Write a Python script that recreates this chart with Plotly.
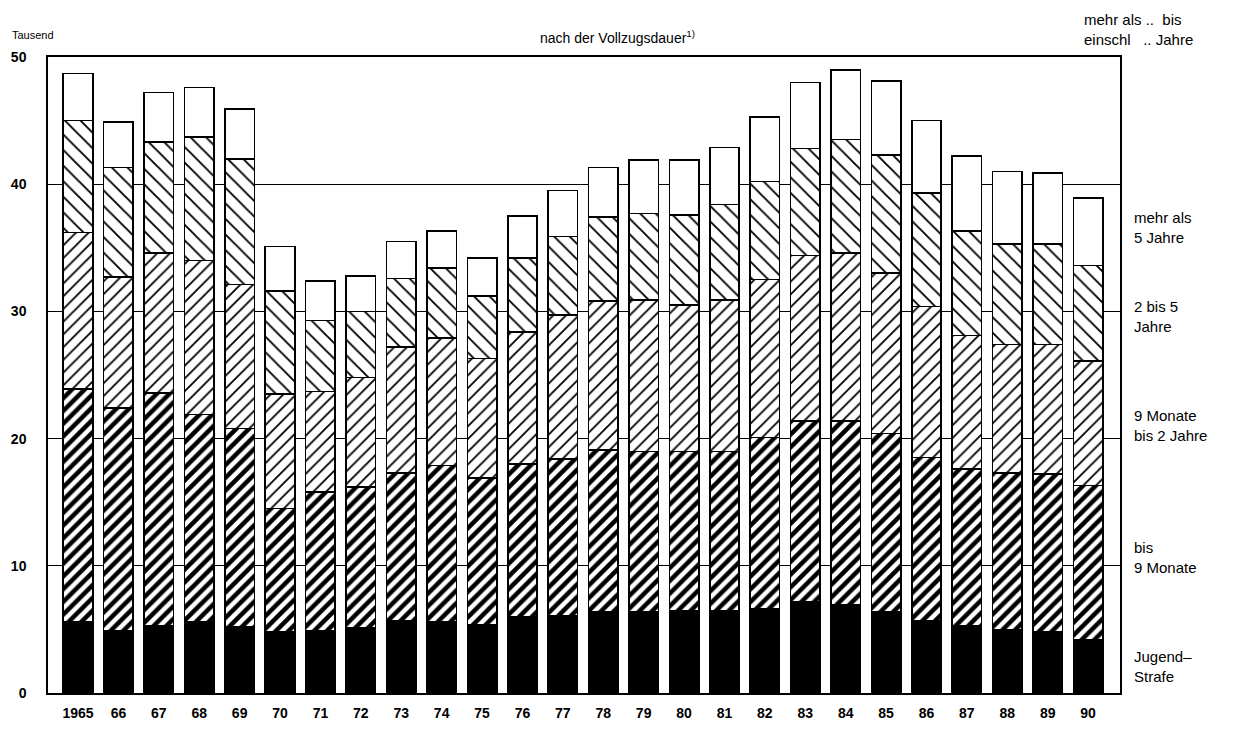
import plotly.graph_objects as go

years = ["1965", "66", "67", "68", "69", "70", "71", "72", "73", "74", "75", "76", "77",
         "78", "79", "80", "81", "82", "83", "84", "85", "86", "87", "88", "89", "90"]

# Thousands of prisoners by length of detention (segments, bottom to top)
jugendstrafe = [5.6, 4.9, 5.3, 5.6, 5.2, 4.8, 4.9, 5.1, 5.7, 5.6, 5.4, 6.0, 6.1,
                6.4, 6.4, 6.5, 6.5, 6.6, 7.2, 6.9, 6.4, 5.7, 5.3, 5.0, 4.8, 4.2]
bis_9_monate = [18.3, 17.5, 18.3, 16.3, 15.6, 9.7, 10.9, 11.1, 11.6, 12.3, 11.5, 12.0, 12.3,
                12.7, 12.6, 12.5, 12.5, 13.5, 14.2, 14.5, 14.0, 12.8, 12.3, 12.3, 12.4, 12.1]
monate9_bis_2j = [12.3, 10.3, 11.0, 12.1, 11.3, 9.0, 7.9, 8.6, 9.9, 10.0, 9.4, 10.4, 11.3,
                  11.7, 11.9, 11.5, 11.9, 12.4, 13.0, 13.2, 12.6, 11.9, 10.5, 10.1, 10.2, 9.8]
jahre2_bis_5 = [8.8, 8.6, 8.7, 9.7, 9.9, 8.1, 5.6, 5.2, 5.4, 5.5, 4.9, 5.8, 6.2,
                6.6, 6.8, 7.1, 7.5, 7.7, 8.4, 8.9, 9.3, 8.9, 8.2, 7.9, 7.9, 7.5]
mehr_als_5 = [3.7, 3.6, 3.9, 3.9, 3.9, 3.5, 3.1, 2.8, 2.9, 2.9, 3.0, 3.3, 3.6,
              3.9, 4.2, 4.3, 4.5, 5.1, 5.2, 5.5, 5.8, 5.7, 5.9, 5.7, 5.6, 5.3]

y_ticks = [0, 10, 20, 30, 40, 50]

FONT = "Liberation Sans, Arial, Helvetica, sans-serif"
BAR_W = 0.73
line = dict(color="black", width=1.6)


def hatch(shape, size, solidity):
    return dict(shape=shape, fgcolor="black", bgcolor="white", fgopacity=1,
                size=size, solidity=solidity, fillmode="replace")


fig = go.Figure()
fig.add_trace(go.Bar(x=years, y=jugendstrafe, name="Jugendstrafe", width=BAR_W,
                     marker=dict(color="black", line=line)))
fig.add_trace(go.Bar(x=years, y=bis_9_monate, name="bis 9 Monate", width=BAR_W,
                     marker=dict(color="white", line=line, pattern=hatch("/", 9, 0.5))))
fig.add_trace(go.Bar(x=years, y=monate9_bis_2j, name="9 Monate bis 2 Jahre", width=BAR_W,
                     marker=dict(color="white", line=line, pattern=hatch("/", 9, 0.2))))
fig.add_trace(go.Bar(x=years, y=jahre2_bis_5, name="2 bis 5 Jahre", width=BAR_W,
                     marker=dict(color="white", line=line, pattern=hatch("\\", 11, 0.17))))
fig.add_trace(go.Bar(x=years, y=mehr_als_5, name="mehr als 5 Jahre", width=BAR_W,
                     marker=dict(color="white", line=line)))

# The page adds an 8px body margin; the figure is sized/placed to compensate.
OFF = 8
W, H = 1238 - 2 * OFF, 735 - 2 * OFF
L, T = 48 - OFF, 57 - OFF
R = W - (1120 - OFF)
B = H - (693 - OFF)
plot_h = H - T - B
plot_w = W - L - R


def px_y(py):
    return (H - B - (py - OFF)) / plot_h


def px_x(px):
    return (px - OFF - L) / plot_w


annotations = []
right_labels = [("mehr als<br>5 Jahre", 227), ("2 bis 5<br>Jahre", 316),
                ("9 Monate<br>bis 2 Jahre", 425), ("bis<br>9 Monate", 557),
                ("Jugend–<br>Strafe", 666)]
for txt, py in right_labels:
    annotations.append(dict(text=txt, x=px_x(1132), y=px_y(py), xref="paper", yref="paper",
                            xanchor="left", yanchor="middle", showarrow=False, align="left",
                            font=dict(family=FONT, size=15, color="black")))
annotations.append(dict(text="mehr als ..  bis<br>einschl   .. Jahre", x=px_x(1082), y=px_y(29),
                        xref="paper", yref="paper", xanchor="left", yanchor="middle",
                        showarrow=False, align="left",
                        font=dict(family=FONT, size=15, color="black")))
annotations.append(dict(text="Tausend", x=px_x(10), y=px_y(35), xref="paper", yref="paper",
                        xanchor="left", yanchor="middle", showarrow=False,
                        font=dict(family=FONT, size=11, color="black")))
annotations.append(dict(text="nach der Vollzugsdauer<sup>1)</sup>", x=px_x(617), y=px_y(37),
                        xref="paper", yref="paper", xanchor="center", yanchor="middle",
                        showarrow=False, font=dict(family=FONT, size=14, color="black")))

fig.update_layout(
    width=W, height=H,
    margin=dict(l=L, r=R, t=T, b=B, autoexpand=False),
    barmode="stack",
    showlegend=False,
    plot_bgcolor="white", paper_bgcolor="white",
    font=dict(family=FONT, color="black"),
    annotations=annotations,
)
fig.update_xaxes(range=[-0.743, 25.79], showline=True, mirror=True, linecolor="black",
                 linewidth=1.5, ticks="", showgrid=False, ticklabelstandoff=6, automargin=False,
                 tickfont=dict(family=FONT, size=14, color="black", weight="bold"))
fig.update_yaxes(range=[0, 50], tickvals=y_ticks, showline=True, mirror=True, linecolor="black",
                 linewidth=1.5, ticks="", showgrid=True, gridcolor="black", gridwidth=1,
                 zeroline=False, ticklabelstandoff=17, automargin=False,
                 tickfont=dict(family=FONT, size=14, color="black", weight="bold"))

fig.write_html("out.html")
